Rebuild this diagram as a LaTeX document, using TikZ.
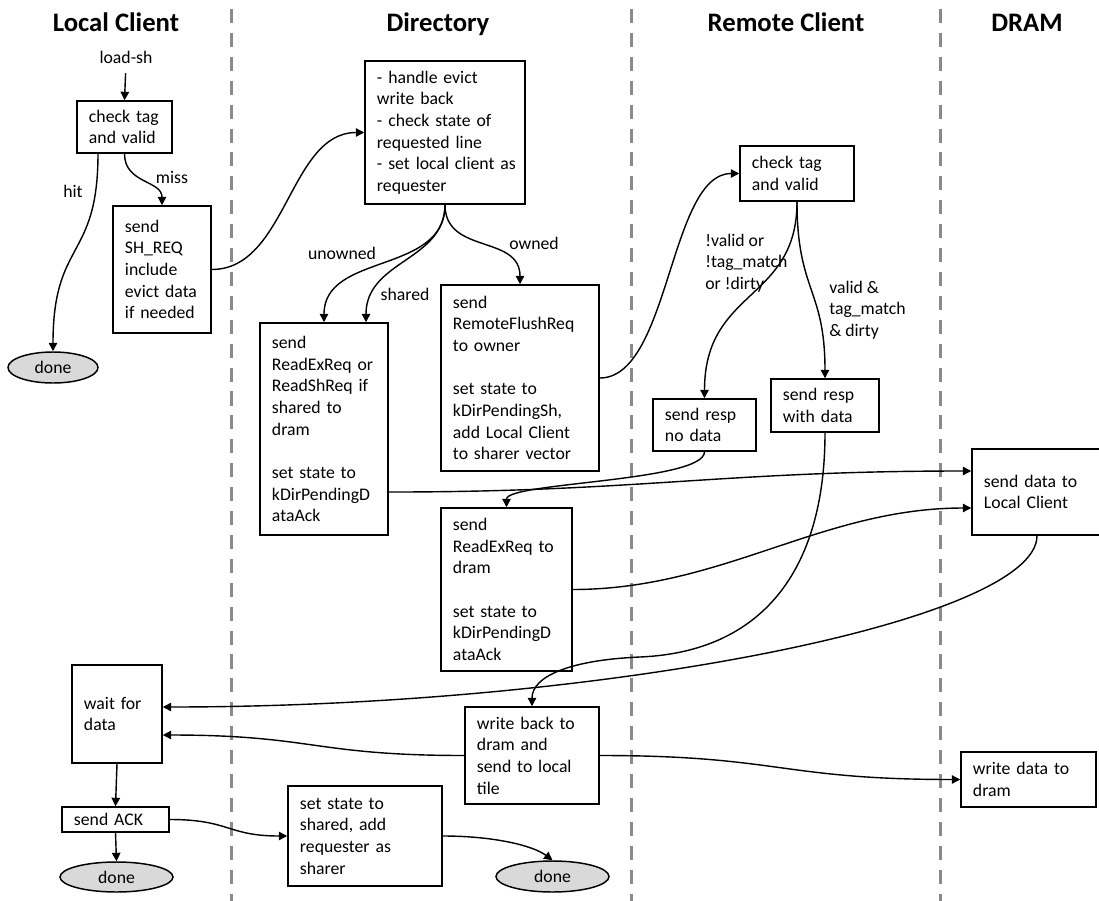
\documentclass[tikz,border=0pt]{standalone}
\usepackage{fontspec}
\setmainfont{Carlito}
\usetikzlibrary{arrows.meta,shapes.geometric}
\definecolor{lanegray}{RGB}{138,138,138}
\definecolor{donefill}{RGB}{217,217,217}
\begin{document}
\begin{tikzpicture}[x=0.025cm,y=-0.025cm,
  txt/.style={font=\fontsize{12.6}{15.4}\selectfont},
  box/.style={draw, line width=1.05pt, align=left, inner xsep=0.3cm, inner ysep=0pt, txt},
  endnode/.style={draw, ellipse, fill=donefill, line width=1.05pt, inner sep=0pt, txt},
  lane/.style={draw=lanegray, line width=2.3pt, dash pattern=on 10pt off 7pt},
  title/.style={font=\fontsize{19}{23}\selectfont\bfseries, inner sep=0pt, anchor=base},
  lbl/.style={txt, inner sep=0pt, align=left},
  flow/.style={line width=1pt, -{Triangle[length=6pt,width=6pt]}},
]
\fill[white] (0,0) rectangle (1099,901);
\useasboundingbox (0,0) rectangle (1099,901);

% swim-lane separators
\draw[lane] (231.5,9) -- (231.5,901);
\draw[lane] (631.5,9) -- (631.5,901);
\draw[lane] (940.5,9) -- (940.5,901);

% lane headings
\node[title] (t_local)  at (116,31.5)  {Local Client};
\node[title] (t_dir)    at (438,31.5)  {Directory};
\node[title] (t_remote) at (786,31.5)  {Remote Client};
\node[title] (t_dram)   at (1027,31.5) {DRAM};

% Local Client
\node[lbl, anchor=base] (loadsh) at (126,63) {load-sh};
\node[box, minimum width=2.375cm, minimum height=1.3cm, text width=1.775cm] (lc_check) at (124.5,127) {check tag\\and valid};
\node[box, minimum width=2.45cm, minimum height=3.175cm, text width=1.85cm] (lc_req) at (162,269.5) {send\\SH\_REQ\\include\\evict data\\if needed};
\node[endnode, minimum width=2.25cm, minimum height=0.775cm] (lc_done1) at (53,367.5) {done};
\node[box, minimum width=2.25cm, minimum height=2.45cm, text width=1.65cm] (lc_wait) at (117,714) {wait for\\data};
\node[box, minimum width=2.675cm, minimum height=0.625cm, text width=2.075cm] (lc_ack) at (115.5,819.5) {send ACK};
\node[endnode, minimum width=2.825cm, minimum height=0.75cm] (lc_done2) at (116.5,877) {done};

% Directory
\node[box, minimum width=4.0cm, minimum height=3.575cm, text width=3.4cm] (dir_main) at (445,132.5) {- handle evict\\write back\\- check state of\\requested line\\\mbox{- set local client as}\\requester};
\node[box, minimum width=3.2cm, minimum height=5.3cm, text width=2.6cm] (dir_read) at (324,429) {send\\ReadExReq or\\ReadShReq if\\shared to\\dram\\[15.4pt]set state to\\kDirPendingD\\ataAck};
\node[box, minimum width=3.95cm, minimum height=4.65cm, text width=3.35cm] (dir_flush) at (520,378) {send\\RemoteFlushReq\\to owner\\[15.4pt]set state to\\kDirPendingSh,\\add Local Client\\to sharer vector};
\node[box, minimum width=3.275cm, minimum height=4.075cm, text width=2.675cm] (dir_read2) at (506.5,589.5) {send\\ReadExReq to\\dram\\[15.4pt]set state to\\kDirPendingD\\ataAck};
\node[box, minimum width=3.35cm, minimum height=2.425cm, text width=2.75cm] (dir_wb) at (532,755.5) {write back to\\dram and\\send to local\\tile};
\node[box, minimum width=3.85cm, minimum height=2.5cm, text width=3.25cm] (dir_set) at (365,836) {set state to\\shared, add\\requester as\\sharer};
\node[endnode, minimum width=2.825cm, minimum height=0.775cm] (dir_done) at (552.5,876.5) {done};

% Remote Client
\node[box, minimum width=2.85cm, minimum height=1.375cm, text width=2.25cm] (rc_check) at (797,173.5) {check tag\\and valid};
\node[box, minimum width=2.575cm, minimum height=1.3cm, text width=1.975cm] (rc_nodata) at (704.5,425) {send resp\\no data};
\node[box, minimum width=2.7cm, minimum height=1.325cm, text width=2.1cm] (rc_data) at (825,405.5) {send resp\\with data};

% DRAM
\node[box, minimum width=3.25cm, minimum height=2.15cm, text width=2.65cm] (dr_send) at (1037,492) {send data to\\Local Client};
\node[box, minimum width=3.375cm, minimum height=1.375cm, text width=2.775cm] (dr_write) at (1028.5,779.5) {write data to\\dram};

% branch labels
\node[lbl, anchor=base] (l_hit) at (73,197) {hit};
\node[lbl, anchor=base] (l_miss) at (172,183) {miss};
\node[lbl, anchor=base] (l_unowned) at (342,259) {unowned};
\node[lbl, anchor=base] (l_shared) at (405,300) {shared};
\node[lbl, anchor=base] (l_owned) at (534,249) {owned};
\node[lbl, anchor=west] (l_miss_rc) at (705,263) {!valid or\\!tag\_match\\or !dirty};
\node[lbl, anchor=west] (l_hit_rc) at (829,310) {valid \&\\tag\_match\\\& dirty};

\coordinate (wbbend) at (640,657);

% connectors
\draw[flow, shorten <=7pt] (loadsh.south) -- (lc_check.north);
\draw[flow] ([xshift=-0.6625cm]lc_check.south) .. controls +(0,107) and +(0,-112) .. (lc_done1.north);
\draw[flow] (lc_check.south) .. controls +(0,30) and +(0,-25) .. (lc_req.north);
\draw[flow] (lc_req.east) .. controls +(75,0) and +(-75,0) .. (dir_main.west);
\draw[flow] (dir_main.south) .. controls +(0,70) and +(0,-70) .. (dir_read.north);
\draw[flow] (dir_main.south) .. controls +(0,56) and +(0,-62) .. ([xshift=1.05cm]dir_read.north);
\draw[flow] (dir_main.south) .. controls +(0,50) and +(0,-50) .. (dir_flush.north);
\draw[flow] (dir_flush.east) .. controls +(70,0) and +(-70,0) .. (rc_check.west);
\draw[flow] (rc_check.south) .. controls +(0,100) and +(0,-110) .. (rc_nodata.north);
\draw[flow] (rc_check.south) .. controls +(0,90) and +(0,-90) .. (rc_data.north);
\draw[flow] (rc_nodata.south) .. controls +(0,30) and +(0,-25) .. (dir_read2.north);
\draw[flow] ([yshift=-1.575cm]dir_read.east) .. controls +(250,0) and +(-250,0) .. ([yshift=0.525cm]dr_send.west);
\draw[flow] (dir_read2.east) .. controls +(150,0) and +(-150,0) .. ([yshift=-0.4cm]dr_send.west);
\draw[flow] (rc_data.south) .. controls +(0,140) and +(120,-5) .. (wbbend)
                            .. controls +(-70,3) and +(0,-30) .. (dir_wb.north);
\draw[flow] (dr_send.south) .. controls +(0,85) and +(440,0) .. ([yshift=0.175cm]lc_wait.east);
\draw[flow] (dir_wb.west) .. controls +(-150,0) and +(150,0) .. ([yshift=-0.525cm]lc_wait.east);
\draw[flow] (dir_wb.east) .. controls +(180,0) and +(-180,0) .. (dr_write.west);
\draw[flow] (lc_wait.south) -- (lc_ack.north);
\draw[flow] (lc_ack.south) -- (lc_done2.north);
\draw[flow] (lc_ack.east) .. controls +(60,0) and +(-60,0) .. (dir_set.west);
\draw[flow] (dir_set.east) .. controls +(50,0) and +(-20,-15) .. (dir_done.north);
\end{tikzpicture}
\end{document}
